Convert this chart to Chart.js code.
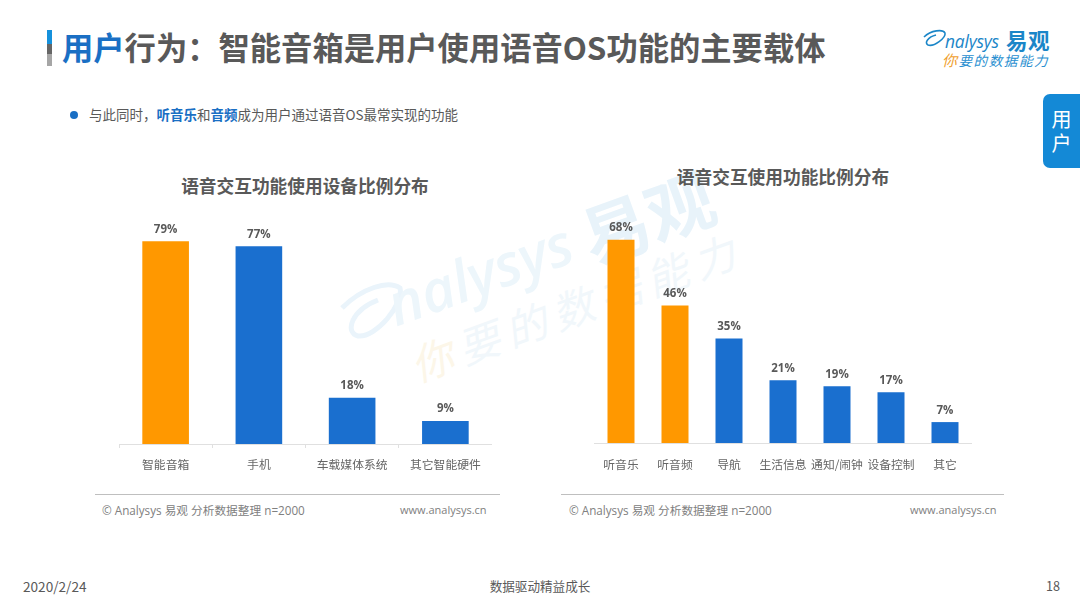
<!DOCTYPE html>
<html lang="zh">
<head>
<meta charset="utf-8">
<title>用户行为</title>
<script src="https://cdn.jsdelivr.net/npm/chart.js@4"></script>
<style>
  html, body { margin: 0; padding: 0; background: #fff; }
  body { width: 1080px; height: 608px; position: relative; overflow: hidden;
         font-family: "Noto Sans CJK SC", "Noto Sans", sans-serif; color: #595959; }
  .abs { position: absolute; white-space: nowrap; }
  .blue { color: #1a6fc4; }
  .title-mark { left: 47px; top: 30px; width: 5px; height: 36px;
                background: linear-gradient(#1591dc 0 38%, #666 38% 68%, #a6a6a6 68%); }
  .title { left: 62px; top: 25px; font-size: 31.3px; line-height: 44px; font-weight: 700; color: #595959; }
  .bullet { left: 70px; top: 111px; width: 8px; height: 8px; border-radius: 50%; background: #1a6fc4; }
  .lead { left: 89px; top: 104px; font-size: 13.5px; line-height: 20px; color: #595959; }
  .lead b { font-weight: 700; }
  .chart-title { font-size: 17.7px; line-height: 24px; font-weight: 700; color: #595959; transform: translateX(-50%); }
  .rule { height: 1px; background: #bfbfbf; top: 494px; }
  .source { top: 502px; font-size: 11.7px; line-height: 16px; color: #808080; font-family: "Open Sans", "Noto Sans CJK SC", sans-serif; }
  .url { font-size: 11px; }
  .side-tab { left: 1043px; top: 94px; width: 37px; height: 74px; background: #1489d6; border-radius: 7px 0 0 7px;
              color: #fff; font-size: 20px; line-height: 24px; text-align: center; padding-top: 13px; box-sizing: border-box; }
  .foot { top: 577px; font-size: 12.6px; line-height: 18px; color: #595959; }
  .date { font-size: 13.6px; }
  .logo-en { left: 945px; top: 30px; font: italic 17.4px/22px "Open Sans", sans-serif; color: #1b86c8; letter-spacing: -.2px; }
  .logo-cn { left: 1006px; top: 25px; font-size: 21.5px; line-height: 30px; font-weight: 700; color: #1b86c8; letter-spacing: .5px; }
  .logo-sub { left: 942px; top: 52px; font-size: 13.6px; line-height: 16px; font-style: italic; color: #2a8fd0; letter-spacing: 1.5px; }
  .logo-sub i { color: #f0a030; font-size: 15px; }
  .mark { transform-origin: 0 100%; transform: rotate(-20deg); }
  .wm-en { left: 401px; top: 268px; font: italic 600 58px/72px "Open Sans", sans-serif; color: #edf6fb; }
  .wm-cn { left: 596px; top: 198px; font-size: 68px; line-height: 76px; font-weight: 700; color: #e8f3fa; }
  .wm-sub { left: 420px; top: 339px; font-size: 42px; line-height: 50px; font-style: italic; color: #f1f7fb; letter-spacing: 8px; }
  .wm-sub i { color: #fcf6e8; }
  canvas { display: block; }
  .box { position: absolute; }
</style>
</head>
<body>

<!-- watermark sits under the charts -->
<svg class="abs" style="left:338px;top:280px" width="90" height="70" viewBox="0 0 90 70">
  <path d="M4 28 C24 8 50 0 62 8 C66 24 38 58 20 56 C6 52 14 30 40 20" fill="none" stroke="#eaf4fb" stroke-width="5"/>
</svg>
<div class="abs mark wm-en">nalysys</div>
<div class="abs mark wm-cn">易观</div>
<div class="abs mark wm-sub"><i>你</i>要的数据能力</div>

<div class="abs title-mark"></div>
<div class="abs title"><span class="blue">用户</span>行为：智能音箱是用户使用语音OS功能的主要载体</div>

<svg class="abs" style="left:922px;top:28px" width="26" height="22" viewBox="0 0 26 22">
  <path d="M2 9 C9 2 21 1 23 5 C24 10 12 19 6 17 C2 15 6 9 14 7" fill="none" stroke="#1b86c8" stroke-width="1.6"/>
</svg>
<div class="abs logo-en">nalysys</div>
<div class="abs logo-cn">易观</div>
<div class="abs logo-sub"><i>你</i>要的数据能力</div>

<div class="abs side-tab">用<br>户</div>

<div class="abs bullet"></div>
<div class="abs lead">与此同时，<b class="blue">听音乐</b>和<b class="blue">音频</b>成为用户通过语音OS最常实现的功能</div>

<div class="abs chart-title" style="left:305px;top:173px">语音交互功能使用设备比例分布</div>
<div class="abs chart-title" style="left:783px;top:164px">语音交互使用功能比例分布</div>

<div class="box" style="left:119px;top:213px;width:373px;height:267px"><canvas id="deviceChart"></canvas></div>
<div class="box" style="left:594px;top:204px;width:378px;height:275px"><canvas id="functionChart"></canvas></div>

<div class="abs rule" style="left:95px;width:405px"></div>
<div class="abs rule" style="left:561px;width:443px"></div>
<div class="abs source" style="left:102px">© Analysys 易观 分析数据整理 n=2000</div>
<div class="abs source url" style="left:400px">www.analysys.cn</div>
<div class="abs source" style="left:569px">© Analysys 易观 分析数据整理 n=2000</div>
<div class="abs source url" style="left:910px">www.analysys.cn</div>

<div class="abs foot date" style="left:23px">2020/2/24</div>
<div class="abs foot" style="left:540px;transform:translateX(-50%)">数据驱动精益成长</div>
<div class="abs foot" style="left:1046px">18</div>

<script>
// chart data
const deviceLabels = ["智能音箱", "手机", "车载媒体系统", "其它智能硬件"];
const deviceValues = [79, 77, 18, 9];
const functionLabels = ["听音乐", "听音频", "导航", "生活信息", "通知/闹钟", "设备控制", "其它"];
const functionValues = [68, 46, 35, 21, 19, 17, 7];

const ORANGE = "#ff9800";
const BLUE = "#1a6fcf";
const AXIS_GREY = "#e0e0e0";
const FONT = '"Noto Sans CJK SC", "Noto Sans", sans-serif';

// percent labels above the bars
const valueLabels = {
  id: "valueLabels",
  afterDatasetsDraw(chart) {
    const ctx = chart.ctx;
    const values = chart.data.datasets[0].data;
    ctx.save();
    ctx.font = '700 11.5px "Open Sans", sans-serif';
    ctx.fillStyle = "#595959";
    ctx.textAlign = "center";
    ctx.textBaseline = "bottom";
    chart.getDatasetMeta(0).data.forEach((bar, i) => {
      ctx.fillText(values[i] + "%", bar.x, bar.y - 6);
    });
    ctx.restore();
  }
};

function drawBars(id, labels, values, orangeCount, yMax, tickLength, tickColor) {
  return new Chart(document.getElementById(id), {
    type: "bar",
    data: {
      labels: labels,
      datasets: [{
        data: values,
        backgroundColor: values.map((v, i) => (i < orangeCount ? ORANGE : BLUE)),
        barPercentage: 0.5,
        categoryPercentage: 1
      }]
    },
    options: {
      responsive: true,
      maintainAspectRatio: false,
      animation: false,
      layout: { padding: 0 },
      plugins: { legend: { display: false }, tooltip: { enabled: false } },
      scales: {
        x: {
          afterFit: axis => { axis.height = 36; },
          border: { color: AXIS_GREY },
          grid: { drawOnChartArea: false, color: AXIS_GREY, tickColor: tickColor, tickLength: tickLength },
          ticks: {
            color: "#666666",
            font: { family: FONT, size: 11.8 },
            padding: 9, // chart.js also pads sideways with this, so keep it small
            autoSkip: false,
            maxRotation: 0
          }
        },
        y: { display: false, min: 0, max: yMax }
      }
    },
    plugins: [valueLabels]
  });
}

drawBars("deviceChart", deviceLabels, deviceValues, 1, 90, 4, AXIS_GREY);
drawBars("functionChart", functionLabels, functionValues, 2, 80, 5, "transparent");
</script>
</body>
</html>
